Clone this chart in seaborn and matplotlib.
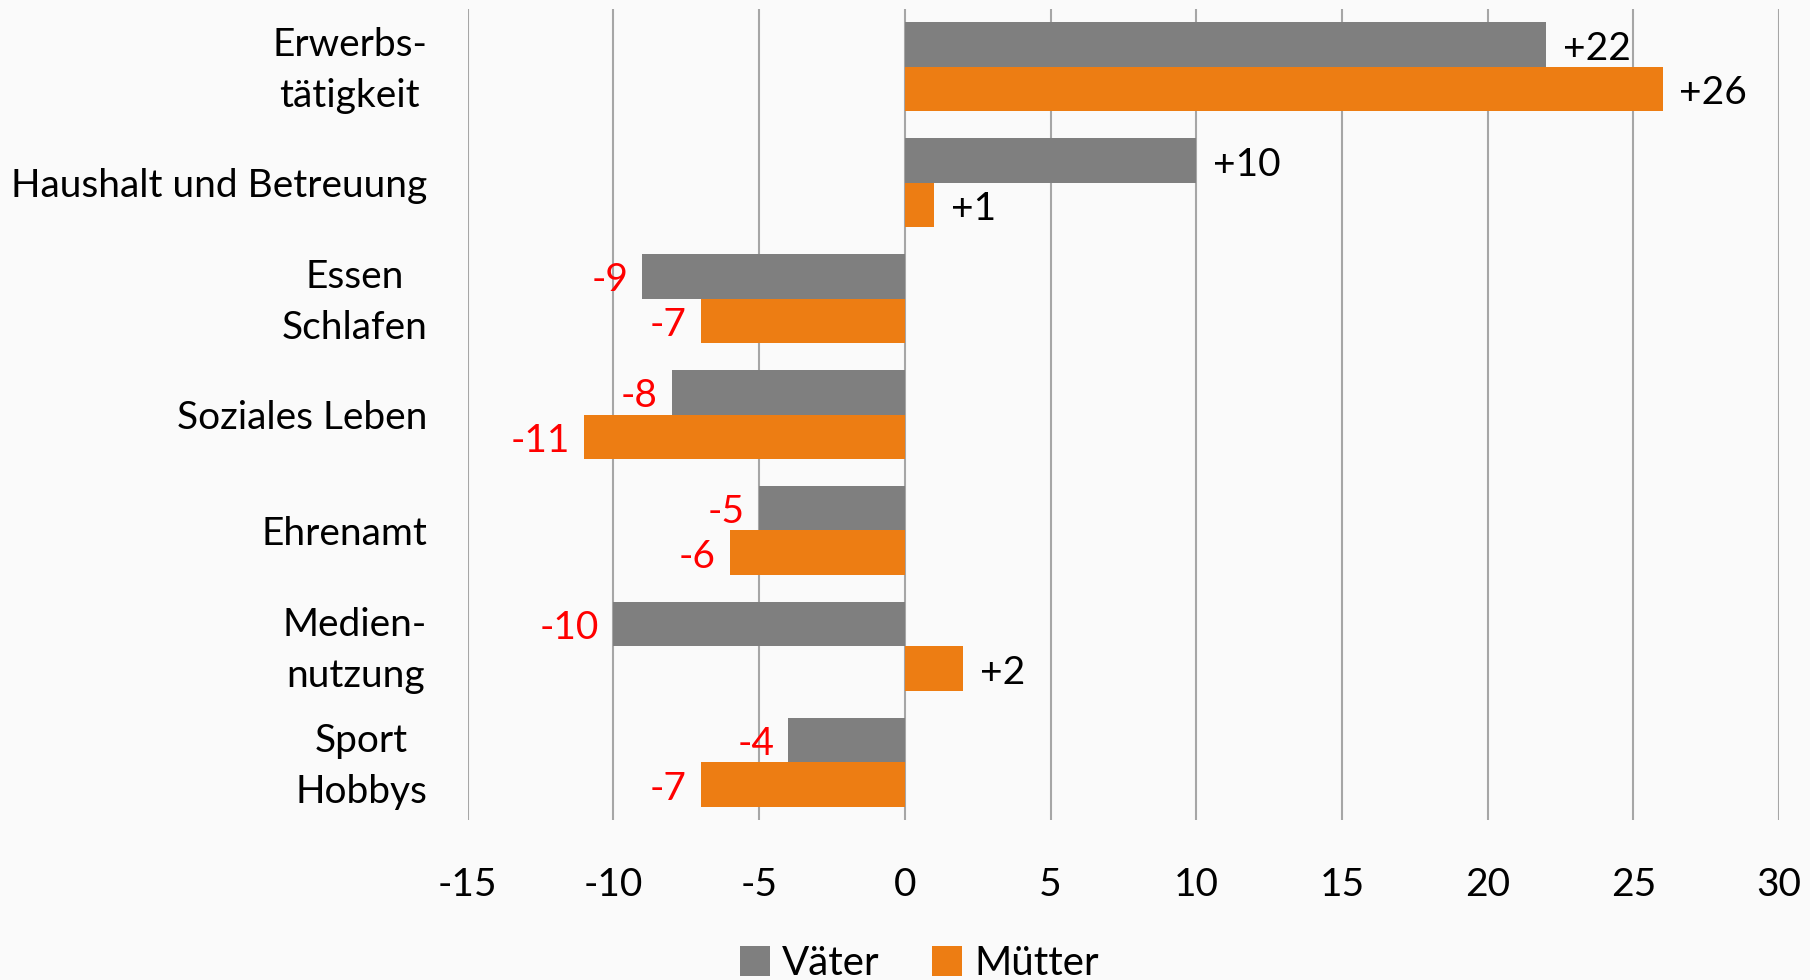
import matplotlib
matplotlib.use("Agg")
import matplotlib.pyplot as plt
import matplotlib.transforms as mtransforms
import seaborn as sns
import pandas as pd
from matplotlib.patches import Patch

categories = ["Erwerbs-\ntätigkeit", "Haushalt und Betreuung", "Essen\nSchlafen",
              "Soziales Leben", "Ehrenamt", "Medien-\nnutzung", "Sport\nHobbys"]
vaeter = [22, 10, -9, -8, -5, -10, -4]
muetter = [26, 1, -7, -11, -6, 2, -7]
series = ["Väter", "Mütter"]
colors = ["#7F7F7F", "#ED7D13"]
xticks = [-15, -10, -5, 0, 5, 10, 15, 20, 25, 30]

df = pd.DataFrame({
    "Kategorie": categories * 2,
    "Wert": vaeter + muetter,
    "Gruppe": [series[0]] * len(categories) + [series[1]] * len(categories),
})

sns.set_theme(style="white")
plt.rcParams["font.family"] = ["Lato", "DejaVu Sans"]
plt.rcParams["text.color"] = "black"
plt.rcParams["xtick.color"] = "black"
plt.rcParams["ytick.color"] = "black"
bg = "#FAFAFA"

fig = plt.figure(figsize=(18.1, 9.8), dpi=100, facecolor=bg)
ax = fig.add_axes([0.2583, 0.163, 0.7247, 0.828])
ax.set_facecolor(bg)

sns.barplot(data=df, x="Wert", y="Kategorie", hue="Gruppe", orient="h",
            palette=colors, width=0.77, saturation=1, ax=ax, legend=False,
            linewidth=0, order=categories, hue_order=series)

ax.set_xlim(-15, 30)
ax.set_ylim(6.5, -0.5)
ax.set_xticks(xticks)
ax.set_xticklabels([str(t) for t in xticks], fontsize=28)
ax.grid(False)
for t in xticks:
    ax.axvline(t, color="#A6A6A6", linewidth=1.5, zorder=0)
for s in ax.spines.values():
    s.set_visible(False)
ax.tick_params(axis="x", length=0, pad=34)
ax.tick_params(axis="y", length=0, pad=29)
ax.set_xlabel("")
ax.set_ylabel("")
shift_up = mtransforms.ScaledTranslation(0, 5 / 72, fig.dpi_scale_trans)
for lbl in ax.get_yticklabels():
    lbl.set_fontsize(28)
    lbl.set_multialignment("center")
    lbl.set_linespacing(1.52)
    if "\n" in lbl.get_text():
        lbl.set_transform(lbl.get_transform() + shift_up)

for cont in ax.containers:
    for bar in cont:
        w = bar.get_width()
        y = bar.get_y() + bar.get_height() / 2
        if w >= 0:
            ax.annotate(f"+{w:.0f}", (w, y), xytext=(12, -3), textcoords="offset points",
                        ha="left", va="center", fontsize=28, color="black")
        else:
            ax.annotate(f"{w:.0f}", (w, y), xytext=(-10, -3), textcoords="offset points",
                        ha="right", va="center", fontsize=28, color="#FF0000")

handles = [Patch(facecolor=c, edgecolor="none") for c in colors]
fig.legend(handles, series, loc="center", bbox_to_anchor=(0.508, 0.017), ncol=2,
           frameon=False, fontsize=29, handlelength=0.75, handleheight=0.75,
           handletextpad=0.3, columnspacing=1.3)

fig.savefig("out.png", dpi=100, facecolor=bg)
